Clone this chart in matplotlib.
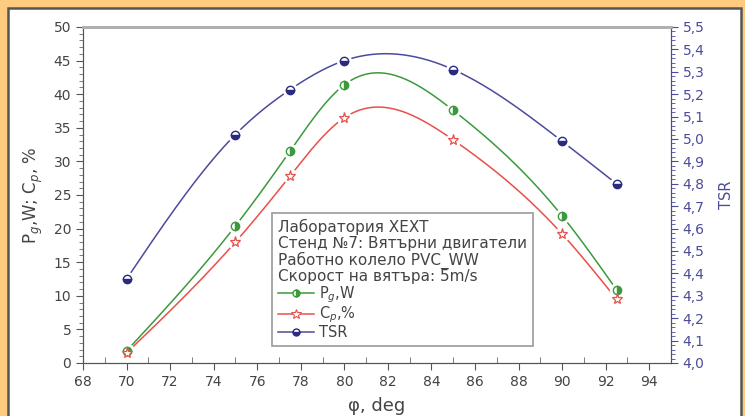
import numpy as np
import matplotlib
matplotlib.use("Agg")
import matplotlib.pyplot as plt
from matplotlib.patches import Rectangle
from matplotlib.lines import Line2D
from matplotlib.ticker import MultipleLocator, FuncFormatter

# data
phi = [70, 75, 77.5, 80, 85, 90, 92.5]
pg_w = [1.8, 20.4, 31.5, 41.4, 37.6, 21.9, 10.9]
cp_pct = [1.5, 18.0, 27.8, 36.5, 33.2, 19.2, 9.5]
tsr = [4.375, 5.02, 5.22, 5.35, 5.31, 4.99, 4.80]

legend_title = ["Лаборатория XEXT",
                "Стенд №7: Вятърни двигатели",
                "Работно колело PVC_WW",
                "Скорост на вятъра: 5m/s"]

c_green = "#3c9a3c"
c_red = "#e8504a"
c_blue = "#4b4b9b"
c_navy = "#2a2a80"
c_text = "#444444"

plt.rcParams["font.family"] = ["DejaVu Sans"]
plt.rcParams["mathtext.fontset"] = "dejavusans"


def natural_spline(x, y, n=300):
    # natural cubic spline, just for the smooth line between the points
    x = np.asarray(x, float)
    y = np.asarray(y, float)
    k = len(x)
    h = np.diff(x)
    A = np.zeros((k, k))
    b = np.zeros(k)
    A[0, 0] = A[-1, -1] = 1
    for i in range(1, k - 1):
        A[i, i - 1] = h[i - 1]
        A[i, i] = 2 * (h[i - 1] + h[i])
        A[i, i + 1] = h[i]
        b[i] = 3 * ((y[i + 1] - y[i]) / h[i] - (y[i] - y[i - 1]) / h[i - 1])
    c = np.linalg.solve(A, b)
    xs = np.linspace(x[0], x[-1], n)
    idx = np.clip(np.searchsorted(x, xs) - 1, 0, k - 2)
    dx = xs - x[idx]
    bb = (y[idx + 1] - y[idx]) / h[idx] - h[idx] * (2 * c[idx] + c[idx + 1]) / 3
    dd = (c[idx + 1] - c[idx]) / (3 * h[idx])
    ys = y[idx] + bb * dx + c[idx] * dx ** 2 + dd * dx ** 3
    return xs, ys


fig = plt.figure(figsize=(7.45, 4.16), dpi=100)
fig.patch.set_facecolor("#FFCB7E")
panel = Rectangle((8 / 745, -0.02), 733 / 745, 1 - 8 / 416 + 0.02,
                  transform=fig.transFigure, facecolor="white",
                  edgecolor="#555555", lw=1.8, zorder=-10)
fig.patches.append(panel)

ax = fig.add_axes([83 / 745, 53 / 416, 588 / 745, 336 / 416])
ax.set_facecolor("none")
ax2 = ax.twinx()

series = [
    (ax, pg_w, c_green, dict(marker="o", fillstyle="right", markerfacecolor=c_green,
                             markerfacecoloralt="white", markeredgecolor=c_green, markersize=6)),
    (ax, cp_pct, c_red, dict(marker="*", markerfacecolor="white",
                             markeredgecolor=c_red, markersize=8, markeredgewidth=0.9)),
    (ax2, tsr, c_blue, dict(marker="o", fillstyle="bottom", markerfacecolor=c_navy,
                            markerfacecoloralt="white", markeredgecolor=c_navy, markersize=6)),
]
for a, vals, col, mk in series:
    xs, ys = natural_spline(phi, vals)
    a.plot(xs, ys, color=col, lw=1.1, zorder=2)
    a.plot(phi, vals, ls="none", marker="o", markersize=11, markerfacecolor="white",
           markeredgecolor="none", zorder=3)
    a.plot(phi, vals, ls="none", zorder=4, **mk)

ax.set_xlim(68, 95)
ax.set_ylim(0, 50)
ax2.set_ylim(4.0, 5.5)
ax.xaxis.set_major_locator(MultipleLocator(2))
ax.xaxis.set_minor_locator(MultipleLocator(1))
ax.yaxis.set_major_locator(MultipleLocator(5))
ax.yaxis.set_minor_locator(MultipleLocator(1))
ax2.yaxis.set_major_locator(MultipleLocator(0.1))
ax2.yaxis.set_minor_locator(MultipleLocator(0.02))
ax2.yaxis.set_major_formatter(FuncFormatter(lambda v, p: f"{v:.1f}".replace(".", ",")))

ax.tick_params(axis="both", which="major", length=5, width=0.8, color="#555555",
               labelcolor=c_text, labelsize=10)
ax.tick_params(axis="y", which="minor", length=3, width=0.6, color="#666666")
ax.tick_params(axis="x", which="minor", direction="in", length=4, width=0.6, color="#666666")
ax2.tick_params(axis="y", which="major", length=5, width=0.8, color=c_blue,
                labelcolor=c_blue, labelsize=10)
ax2.tick_params(axis="y", which="minor", length=3, width=0.6, color=c_blue)

for a in (ax, ax2):
    a.spines["top"].set_color("#b0b0b0")
    a.spines["top"].set_linewidth(2)
    a.spines["left"].set_color("#555555")
    a.spines["bottom"].set_color("#555555")
    a.spines["right"].set_color(c_blue)

ax.set_xlabel("φ, deg", fontsize=13, color=c_text, labelpad=6)
ax.set_ylabel("P$_g$,W; C$_p$, %", fontsize=12, color=c_text, labelpad=6)
ax2.set_ylabel("TSR", fontsize=10.5, color=c_blue, labelpad=10)

handles = [
    Line2D([], [], color=c_green, lw=1.1, marker="o", fillstyle="right", markerfacecolor=c_green,
           markerfacecoloralt="white", markeredgecolor=c_green, markersize=5),
    Line2D([], [], color=c_red, lw=1.1, marker="*", markerfacecolor="white",
           markeredgecolor=c_red, markersize=7, markeredgewidth=0.8),
    Line2D([], [], color=c_blue, lw=1.1, marker="o", fillstyle="bottom", markerfacecolor=c_navy,
           markerfacecoloralt="white", markeredgecolor=c_navy, markersize=5),
]
labels = ["P$_g$,W", "C$_p$,%", "TSR"]
leg = ax2.legend(handles, labels, title="\n".join(legend_title), loc="upper left",
                 bbox_to_anchor=((272 - 83) / 588, (363 - 213) / 336), alignment="left",
                 fontsize=10.5, title_fontsize=11, frameon=True, fancybox=False,
                 edgecolor="#999999", framealpha=1, handlelength=2.5, handletextpad=0.3,
                 labelspacing=0.0, borderpad=0.4, borderaxespad=0)
leg.get_frame().set_linewidth(1.2)
leg.get_title().set_color(c_text)
leg.get_title().set_linespacing(1.05)
for t in leg.get_texts():
    t.set_color(c_text)
leg.set_zorder(10)

fig.savefig("out.png", dpi=100, facecolor=fig.get_facecolor())
